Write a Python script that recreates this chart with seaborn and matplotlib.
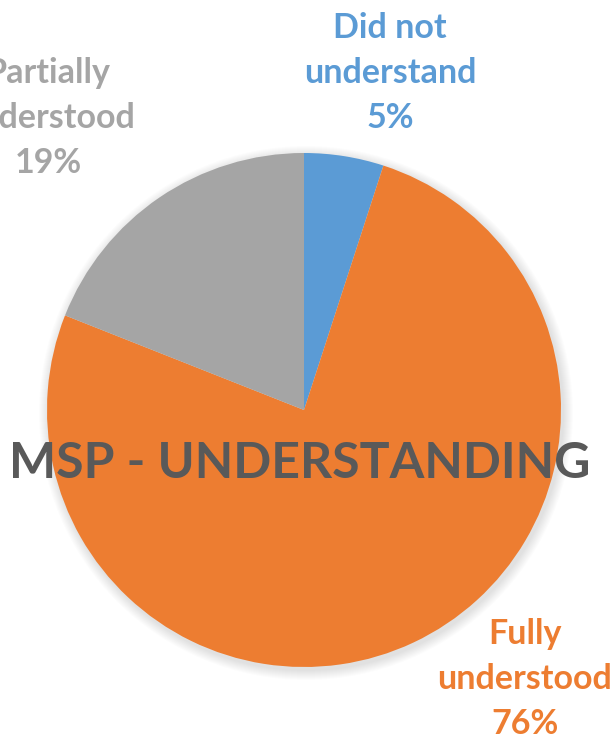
import matplotlib
matplotlib.use("Agg")
import matplotlib.pyplot as plt
from matplotlib.patches import Circle
import seaborn as sns

sns.set_theme(style="white")
plt.rcParams["font.family"] = ["Lato", "DejaVu Sans"]

# Survey responses (share of respondents, %)
categories = ["Did not\nunderstand", "Fully\nunderstood", "Partially\nunderstood"]
shares = [5, 76, 19]
colors = ["#5B9BD5", "#ED7D31", "#A5A5A5"]
title = "MSP - UNDERSTANDING"

W, H = 616, 742
fig = plt.figure(figsize=(W / 100, H / 100), dpi=100)
ax = fig.add_axes([0, 0, 1, 1])

cx, cy, r = 304, H - 410, 257

# soft drop shadow behind the pie
for i in range(10):
    ax.add_patch(Circle((cx + 2, cy - 3), r + 10 - i, color="black",
                        alpha=0.012, lw=0, zorder=0))

ax.pie(shares, colors=colors, startangle=90, counterclock=False,
       center=(cx, cy), radius=r, frame=True,
       wedgeprops=dict(linewidth=0))
ax.set_xlim(0, W)
ax.set_ylim(0, H)
ax.set_aspect("equal")
ax.axis("off")

# data labels placed outside the wedges
label_pos = [(390, H - 73), (525, H - 679), (48, H - 118)]
for name, val, col, (lx, ly) in zip(categories, shares, colors, label_pos):
    ax.text(lx, ly, f"{name}\n{val}%", color=col, fontsize=24.5,
            fontweight="bold", ha="center", va="center", linespacing=1.5,
            zorder=5)

ax.text(300, H - 463, title, color="#595959", fontsize=36,
        fontweight="bold", ha="center", va="center", zorder=5)

fig.savefig("out.png", dpi=100)
